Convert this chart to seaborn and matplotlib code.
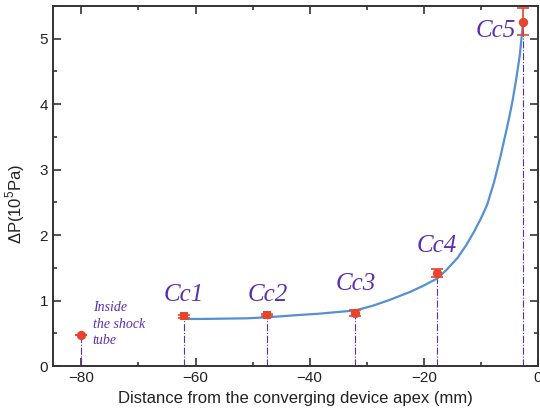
import matplotlib
matplotlib.use("Agg")
import matplotlib.pyplot as plt
import seaborn as sns
import pandas as pd
from matplotlib.ticker import MultipleLocator

# measured points
pt_x = [-80.0, -62.0, -47.5, -32.0, -17.6, -2.6]
pt_y = [0.47, 0.76, 0.78, 0.81, 1.42, 5.26]
pt_err = [0.0, 0.02, 0.02, 0.04, 0.06, 0.2]
pt_marker = ["o", "s", "s", "o", "o", "o"]
labels = ["Cc1", "Cc2", "Cc3", "Cc4", "Cc5"]
label_x = [-62.0, -47.4, -32.0, -17.7, -7.3]
label_y = [1.09, 1.09, 1.25, 1.83, 5.12]
note_lines = ["Inside", "the shock", "tube"]
note_y = [0.90, 0.64, 0.39]

# fitted curve
fit_x = [-62.5, -59.0, -55.0, -51.0, -47.5, -42.0, -38.4, -32.0, -29.0, -26.0,
         -22.2, -20.0, -17.6, -16.0, -14.1, -12.6, -11.2, -10.0, -8.9, -7.7,
         -6.55, -5.1, -4.5, -3.9, -3.17, -2.6]
fit_y = [0.72, 0.72, 0.725, 0.73, 0.745, 0.78, 0.80, 0.85, 0.92, 1.01,
         1.14, 1.23, 1.34, 1.47, 1.65, 1.84, 2.05, 2.25, 2.46, 2.80,
         3.20, 3.76, 4.02, 4.32, 4.74, 5.24]

sns.set_style("ticks")
plt.rcParams['font.family'] = ['Liberation Sans', 'DejaVu Sans']
plt.rcParams['mathtext.fontset'] = 'custom'
plt.rcParams['mathtext.rm'] = 'Liberation Sans'

red = "#e8432c"
purple = "#5a2fb0"
serif = ["Liberation Serif", "DejaVu Serif"]
fig = plt.figure(figsize=(5.4, 4.17), dpi=100)
ax = fig.add_axes([0.098, 0.122, 0.898, 0.864])

fit = pd.DataFrame({"x": fit_x, "y": fit_y})
sns.lineplot(data=fit, x="x", y="y", ax=ax, color="#5590d2", lw=1.6,
             sort=False, zorder=2)

# drop lines to the axis
ax.vlines(pt_x, 0, pt_y, colors=purple, linestyles="dashdot", lw=0.8, zorder=1)

ax.errorbar(pt_x, pt_y, yerr=pt_err, fmt="none", ecolor=red, elinewidth=1.2,
            capsize=4, capthick=1.2, zorder=3)
pts = pd.DataFrame({"x": pt_x, "y": pt_y, "m": pt_marker})
for m in ["o", "s"]:
    sub = pts[pts["m"] == m]
    sns.scatterplot(data=sub, x="x", y="y", ax=ax, marker=m, color=red,
                    s=45 if m == "o" else 40, edgecolor=red, linewidth=0, zorder=4)

for t, lx, ly in zip(labels, label_x, label_y):
    ax.text(lx, ly, t, ha="center", va="center", fontsize=18, style="italic",
            color=purple, family=serif)
for t, ly in zip(note_lines, note_y):
    ax.text(-78.0, ly, t, ha="left", va="center", fontsize=10, style="italic",
            color=purple, family=serif)

ax.set_xlim(-85, 0)
ax.set_ylim(0, 5.5)
ax.xaxis.set_major_locator(MultipleLocator(20))
ax.xaxis.set_minor_locator(MultipleLocator(10))
ax.yaxis.set_major_locator(MultipleLocator(1))
ax.yaxis.set_minor_locator(MultipleLocator(0.5))
ax.tick_params(which="both", direction="in", top=True, right=True,
               color="#333333", width=1.2, labelsize=11, labelcolor="#222222")
ax.tick_params(which="major", length=6)
ax.tick_params(which="minor", length=3)
for s in ax.spines.values():
    s.set_linewidth(1.4)
    s.set_color("#333333")

ax.set_xlabel("Distance from the converging device apex (mm)", fontsize=12,
              color="#222222", labelpad=4)
ax.set_ylabel("ΔP(10$^5$Pa)", fontsize=12, color="#222222", labelpad=6)
ax.yaxis.set_label_coords(-0.054, 0.45)

fig.savefig("out.png", dpi=100)
